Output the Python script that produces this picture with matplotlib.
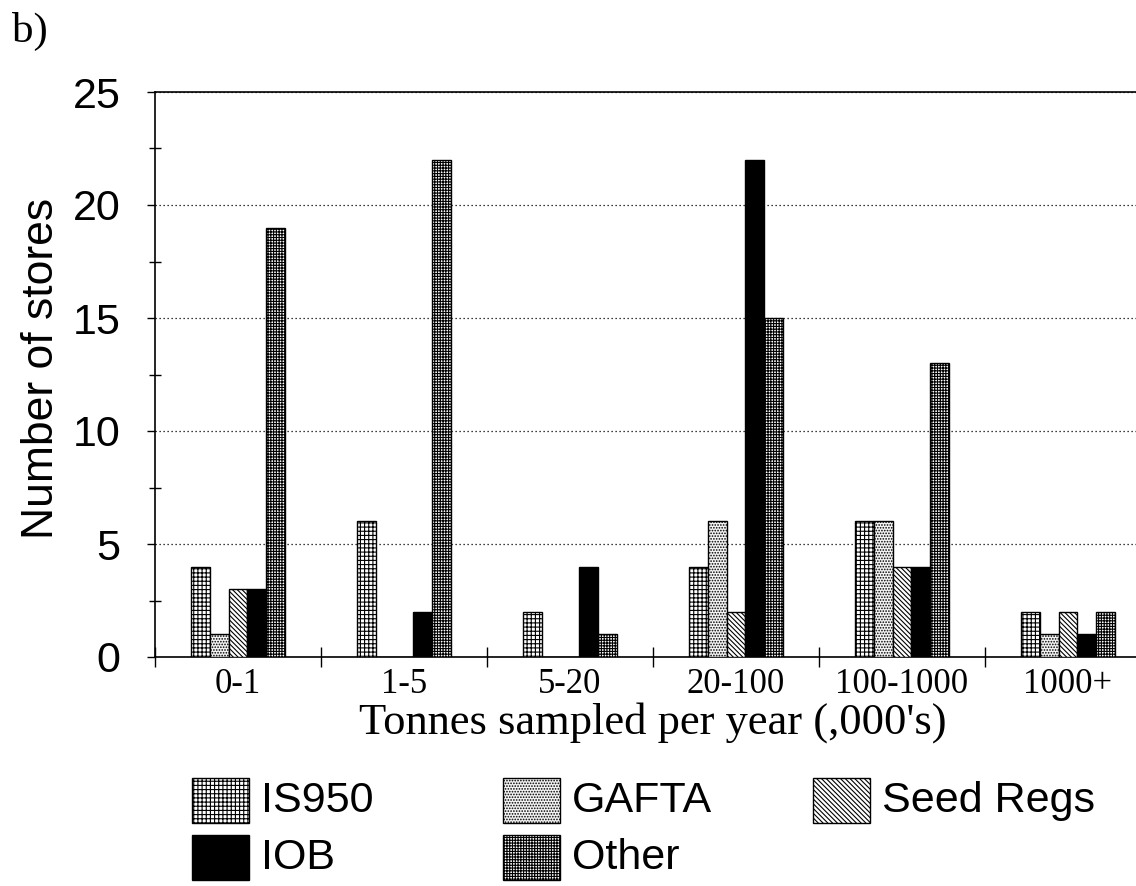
import numpy as np
import matplotlib
matplotlib.use("Agg")
import matplotlib.pyplot as plt
from matplotlib.patches import Rectangle
from matplotlib.ticker import MultipleLocator, FixedLocator, NullFormatter

# stores per sampling band, by sampling standard
categories = ['0-1', '1-5', '5-20', '20-100', '100-1000', '1000+']
is950 = [4, 6, 2, 4, 6, 2]
gafta = [1, 0, 0, 6, 6, 1]
seed_regs = [3, 0, 0, 2, 4, 2]
iob = [3, 2, 4, 22, 4, 1]
other = [19, 22, 1, 15, 13, 2]

series_names = ['IS950', 'GAFTA', 'Seed Regs', 'IOB', 'Other']
series_vals = [is950, gafta, seed_regs, iob, other]
# (facecolor, hatch) per series
styles = [('white', '++++'),
          ('#f4f4f4', '......'),
          ('white', '\\' * 7),
          ('black', None),
          ('white', '++++++')]

plt.rcParams['hatch.linewidth'] = 0.8
SANS = 'Liberation Sans'
SERIF = 'Liberation Serif'

fig = plt.figure(figsize=(11.36, 8.86), dpi=100)
W, H = 1136, 886
# axes run past the right edge, the last band is clipped
ax = fig.add_axes([155 / W, 1 - 657 / H, 996 / W, 565 / H])

x = np.arange(len(categories))
bw = 0.114
for i, (vals, (fc, hatch)) in enumerate(zip(series_vals, styles)):
    ax.bar(x + (i - 2) * bw, vals, bw, color=fc, edgecolor='black',
           hatch=hatch, linewidth=1.0, zorder=3)

ax.set_xlim(-0.5, len(categories) - 0.5)
ax.set_ylim(0, 25)

# y axis
ax.yaxis.set_major_locator(MultipleLocator(5))
ax.yaxis.set_minor_locator(MultipleLocator(2.5))
ax.tick_params(axis='y', which='major', direction='out', length=6, width=1,
               pad=19, labelsize=31)
ax.tick_params(axis='y', which='minor', direction='inout', length=8, width=1)
for lab in ax.get_yticklabels():
    lab.set_fontfamily(SANS)

# x axis: labels at band centres, tick marks at band edges
ax.set_xticks(x)
ax.set_xticklabels(categories, fontfamily=SERIF, fontsize=25)
ax.xaxis.set_minor_locator(FixedLocator(np.arange(len(categories) + 1) - 0.5))
ax.xaxis.set_minor_formatter(NullFormatter())
ax.tick_params(axis='x', which='major', length=0, pad=8)
ax.tick_params(axis='x', which='minor', direction='inout', length=15, width=1)

ax.grid(axis='y', which='major', linestyle=(0, (1, 2.2)), color='black',
        linewidth=0.9, zorder=0)
ax.spines['right'].set_visible(False)
for s in ['left', 'bottom', 'top']:
    ax.spines[s].set_linewidth(1.2)

ax.set_ylabel('Number of stores', fontfamily=SANS, fontsize=32)
ax.yaxis.set_label_coords(-0.0934, 0.51)
ax.set_xlabel("Tonnes sampled per year (,000's)", fontfamily=SERIF, fontsize=32)
ax.xaxis.set_label_coords(0.5, -0.08)

fig.text(12 / W, 1 - 42 / H, 'b)', fontfamily=SERIF, fontsize=31,
         va='baseline', ha='left')

# legend, three per row
col_x = [192, 503, 813]
row_y = [778, 835]
for k, (name, (fc, hatch)) in enumerate(zip(series_names, styles)):
    r, c = divmod(k, 3)
    x0, y0 = col_x[c], row_y[r]
    fig.add_artist(Rectangle((x0 / W, 1 - (y0 + 45) / H), 57 / W, 45 / H,
                             transform=fig.transFigure, facecolor=fc,
                             edgecolor='black', hatch=hatch, linewidth=1.0))
    fig.text((x0 + 69) / W, 1 - (y0 + 23) / H, name, fontfamily=SANS,
             fontsize=31, va='center', ha='left')

fig.savefig('out.png', dpi=100)
